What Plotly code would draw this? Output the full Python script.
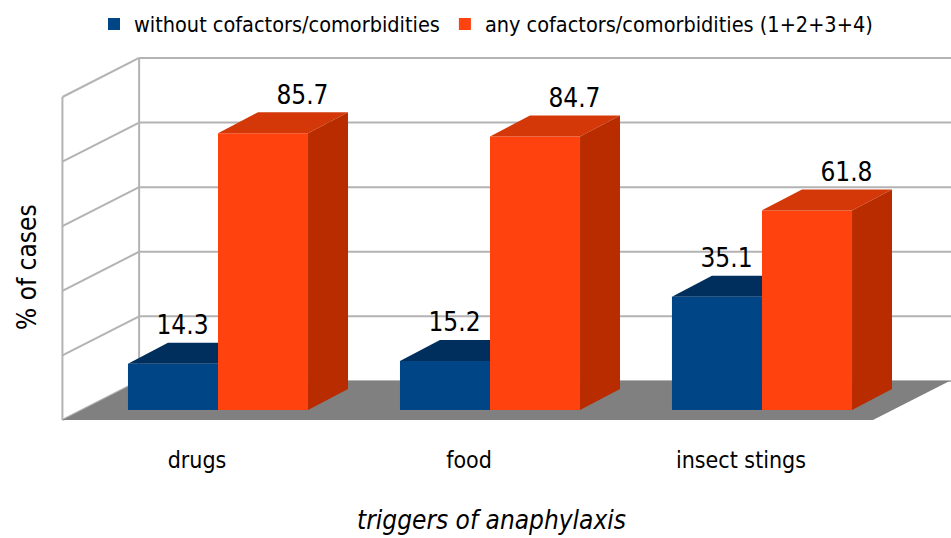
import plotly.graph_objects as go

# ---------------- data ----------------
categories = ["drugs", "food", "insect stings"]
without_cof = [14.3, 15.2, 35.1]
any_cof = [85.7, 84.7, 61.8]
series_names = ["without cofactors/comorbidities", "any cofactors/comorbidities (1+2+3+4)"]
y_ticks = [0, 20, 40, 60, 80, 100]

# ---------------- style / geometry ----------------
BLUE, BLUE_TOP = "#004586", "#002f5e"
ORANGE, ORANGE_TOP, ORANGE_SIDE = "#ff420e", "#d43808", "#b82c00"
GRID = "#b3b3b3"
FLOOR = "#808080"
FONT = "Liberation Sans Narrow, Arial Narrow, DejaVu Sans Condensed, Liberation Sans, sans-serif"

BAR_W = 0.331                  # width of one bar (category units)
DXB, DYB = 0.147, 6.5          # bar depth offset (x units, value units)
DXW, DYW = 0.21, 9.0           # back wall offset
DXF, DYF = -0.072, -3.1        # floor front offset
WALL_X0 = -0.29                # back wall left edge
FLOOR_BACK_RIGHT = 2.69
XR = [-0.8015, 2.6949]
YR = [-9.288, 114.55]

W, H = 951, 538


def px(xpage):
    return xpage / W


def py(ypage):
    return (440 - ypage) / 400


xs = list(range(len(categories)))

fig = go.Figure()
fig.add_trace(go.Bar(x=xs, y=without_cof, name=series_names[0], marker=dict(color=BLUE, line=dict(width=0))))
fig.add_trace(go.Bar(x=xs, y=any_cof, name=series_names[1], marker=dict(color=ORANGE, line=dict(width=0))))


def poly(pts):
    return "M " + " L ".join(f"{x},{y}" for x, y in pts) + " Z"


shapes = []
front_left = WALL_X0 - (DXW - DXF)
front_right = FLOOR_BACK_RIGHT - (DXW - DXF)
top = y_ticks[-1]
for t in y_ticks:
    shapes.append(dict(type="line", layer="below", xref="x", yref="y", x0=WALL_X0, x1=XR[1] + 0.1,
                       y0=t + DYW, y1=t + DYW, line=dict(color=GRID, width=2)))
    shapes.append(dict(type="line", layer="below", xref="x", yref="y", x0=front_left, x1=WALL_X0,
                       y0=t + DYF, y1=t + DYW, line=dict(color=GRID, width=2)))
shapes.append(dict(type="line", layer="below", xref="x", yref="y", x0=WALL_X0, x1=WALL_X0,
                   y0=DYW, y1=top + DYW, line=dict(color=GRID, width=2)))
shapes.append(dict(type="line", layer="below", xref="x", yref="y", x0=front_left, x1=front_left,
                   y0=DYF, y1=top + DYF, line=dict(color=GRID, width=2)))
shapes.append(dict(type="path", layer="below", xref="x", yref="y",
                   path=poly([(front_left, DYF), (front_right, DYF), (FLOOR_BACK_RIGHT, DYW), (WALL_X0, DYW)]),
                   fillcolor=FLOOR, line=dict(width=0)))

# 3D faces of bars
for i, (vb, vo) in enumerate(zip(without_cof, any_cof)):
    bx0, bx1 = i - BAR_W, i
    ox0, ox1 = i, i + BAR_W
    shapes.append(dict(type="path", xref="x", yref="y", layer="above",
                       path=poly([(bx0, vb), (bx0 + DXB, vb + DYB), (bx1, vb + DYB), (bx1, vb)]),
                       fillcolor=BLUE_TOP, line=dict(width=0)))
    shapes.append(dict(type="path", xref="x", yref="y", layer="above",
                       path=poly([(ox0, vo), (ox0 + DXB, vo + DYB), (ox1 + DXB, vo + DYB), (ox1, vo)]),
                       fillcolor=ORANGE_TOP, line=dict(width=0)))
    shapes.append(dict(type="path", xref="x", yref="y", layer="above",
                       path=poly([(ox1, 0), (ox1, vo), (ox1 + DXB, vo + DYB), (ox1 + DXB, DYB)]),
                       fillcolor=ORANGE_SIDE, line=dict(width=0)))

# value labels
LBL_DY = 11.2
fig.add_trace(go.Scatter(x=[i - BAR_W / 2 + 0.035 for i in xs], y=[v + LBL_DY for v in without_cof],
                         text=[f"{v:.1f}" for v in without_cof], mode="text", showlegend=False,
                         textfont=dict(size=26, color="#000000", family=FONT), hoverinfo="skip"))
fig.add_trace(go.Scatter(x=[i + BAR_W / 2 + 0.145 for i in xs], y=[v + LBL_DY for v in any_cof],
                         text=[f"{v:.1f}" for v in any_cof], mode="text", showlegend=False,
                         textfont=dict(size=26, color="#000000", family=FONT), hoverinfo="skip"))

annotations = [
    dict(text="% of cases", textangle=-90, xref="paper", yref="paper", x=px(27), y=py(267),
         xanchor="center", yanchor="middle",
         showarrow=False, font=dict(size=26, family=FONT, color="#000")),
    dict(text="<i>triggers of anaphylaxis</i>", xref="paper", yref="paper", x=px(491), y=py(520),
         xanchor="center", yanchor="middle",
         showarrow=False, font=dict(size=26, family=FONT, color="#000")),
]

fig.update_layout(
    width=W, height=H,
    margin=dict(l=0, r=0, t=40, b=98),
    plot_bgcolor="white", paper_bgcolor="white",
    barmode="group", bargap=0.338, bargroupgap=0,
    shapes=shapes, annotations=annotations,
    showlegend=True,
    legend=dict(orientation="h", x=px(486), xanchor="center", y=py(24), yanchor="middle",
                font=dict(size=21.5, family=FONT, color="#000"), itemwidth=30, traceorder="normal",
                bgcolor="rgba(0,0,0,0)"),
    xaxis=dict(range=XR, tickvals=xs, ticktext=categories, showgrid=False, zeroline=False, showline=False,
               ticks="", ticklabelshift=-21, ticklabelstandoff=4,
               tickfont=dict(size=23, family=FONT, color="#000")),
    yaxis=dict(range=YR, visible=False, showgrid=False, zeroline=False),
)

fig.write_html("out.html", config={"displayModeBar": False},
               post_script="document.body.style.margin='0';document.body.style.overflow='hidden';")
